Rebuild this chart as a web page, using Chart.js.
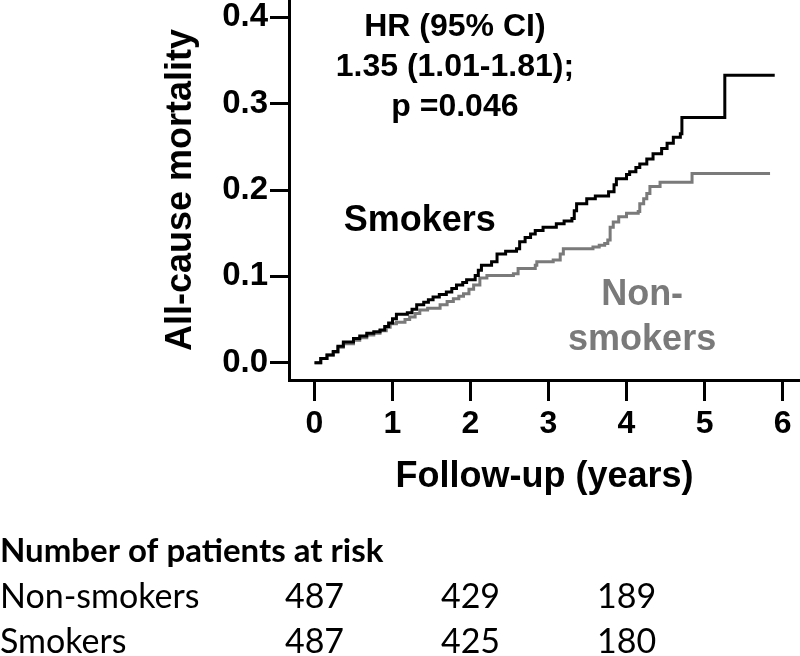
<!DOCTYPE html>
<html>
<head>
<meta charset="utf-8">
<script src="https://cdn.jsdelivr.net/npm/chart.js@4/dist/chart.umd.min.js"></script>
<style>
  body { margin: 0; background: #fff; }
  canvas { display: block; }
</style>
</head>
<body>
<canvas id="myChart" width="800" height="656"></canvas>
<script>
// Kaplan-Meier style cumulative mortality
const smokersT = [0, 0.08, 0.16, 0.24, 0.30, 0.37, 0.50, 0.58, 0.67, 0.76, 0.84, 0.90, 0.95, 1.00, 1.05,
    1.19, 1.25, 1.31, 1.40, 1.46, 1.52, 1.60, 1.69, 1.76, 1.82, 1.90, 1.95, 2.06, 2.10, 2.14, 2.27, 2.34,
    2.45, 2.59, 2.63, 2.70, 2.77, 2.83, 2.93, 3.10, 3.20, 3.30, 3.33, 3.36, 3.49, 3.60, 3.77, 3.84, 3.87,
    4.00, 4.04, 4.12, 4.17, 4.26, 4.34, 4.45, 4.52, 4.60, 4.69, 4.71, 5.26, 5.90];
const smokersY = [0, 0.005, 0.009, 0.013, 0.019, 0.024, 0.028, 0.031, 0.034, 0.036, 0.038, 0.042, 0.046, 0.051, 0.056,
    0.058, 0.062, 0.067, 0.070, 0.073, 0.076, 0.079, 0.082, 0.086, 0.090, 0.093, 0.096, 0.101, 0.107, 0.113, 0.117, 0.126,
    0.129, 0.132, 0.140, 0.145, 0.149, 0.153, 0.157, 0.161, 0.164, 0.167, 0.176, 0.184, 0.190, 0.193, 0.198, 0.206, 0.213,
    0.218, 0.221, 0.226, 0.230, 0.236, 0.242, 0.248, 0.254, 0.261, 0.265, 0.284, 0.333, 0.333];

const nonSmokersT = [0, 0.08, 0.16, 0.24, 0.30, 0.37, 0.50, 0.58, 0.67, 0.76, 0.84, 0.92, 0.97, 1.05, 1.16,
    1.22, 1.29, 1.35, 1.45, 1.61, 1.70, 1.78, 1.85, 1.91, 1.98, 2.04, 2.12, 2.21, 2.55, 2.61, 2.83, 2.85,
    3.06, 3.15, 3.19, 3.57, 3.65, 3.72, 3.76, 3.79, 3.83, 3.90, 4.00, 4.15, 4.17, 4.22, 4.26, 4.30, 4.43,
    4.84, 5.84];
const nonSmokersY = [0, 0.005, 0.009, 0.012, 0.018, 0.022, 0.026, 0.029, 0.032, 0.034, 0.037, 0.041, 0.045, 0.047, 0.050,
    0.053, 0.057, 0.061, 0.063, 0.067, 0.071, 0.074, 0.077, 0.080, 0.085, 0.090, 0.098, 0.101, 0.103, 0.109, 0.113, 0.117,
    0.119, 0.126, 0.132, 0.134, 0.136, 0.138, 0.142, 0.157, 0.163, 0.169, 0.173, 0.175, 0.184, 0.190, 0.196, 0.204, 0.209,
    0.219, 0.219];

const xTicks = [0, 1, 2, 3, 4, 5, 6];
const yTicks = [0, 0.1, 0.2, 0.3, 0.4];

// numbers at risk table
const riskTimes = [0, 2, 4];
const riskGroups = ['Non-smokers', 'Smokers'];
const nonSmokersRisk = [487, 429, 189];
const smokersRisk = [487, 425, 180];

const hrLines = ['HR (95% CI)', '1.35 (1.01-1.81);', 'p =0.046'];

const GREY = '#7a7a7a';
const BOLD = 'bold {s}px "Liberation Sans", Arial, sans-serif';
const boldFont = (s) => BOLD.replace('{s}', s);

function toPoints(xs, ys) {
    return xs.map((x, i) => ({ x: x, y: ys[i] }));
}

const textPlugin = {
    id: 'kmText',
    afterDraw(chart) {
        const ctx = chart.ctx;
        const xs = chart.scales.x;
        const ys = chart.scales.y;
        ctx.save();
        ctx.textAlign = 'center';
        ctx.textBaseline = 'middle';

        // hazard ratio block
        ctx.fillStyle = '#000';
        ctx.font = boldFont(32);
        const hrY = [0.3887, 0.3424, 0.2961];
        hrLines.forEach((t, i) => {
            ctx.fillText(t, xs.getPixelForValue(1.80), ys.getPixelForValue(hrY[i]));
        });

        // curve labels
        ctx.font = boldFont(36);
        ctx.fillText('Smokers', xs.getPixelForValue(1.35), ys.getPixelForValue(0.1640));
        ctx.fillStyle = GREY;
        ctx.fillText('Non-', xs.getPixelForValue(4.20), ys.getPixelForValue(0.0778));
        ctx.fillText('smokers', xs.getPixelForValue(4.20), ys.getPixelForValue(0.0257));

        // at-risk table
        ctx.fillStyle = '#000';
        ctx.textBaseline = 'alphabetic';
        ctx.textAlign = 'left';
        ctx.font = 'bold 33px Lato, "Open Sans", sans-serif';
        ctx.fillText('Number of patients at risk', 0, 562);
        ctx.font = '34px Lato, "Open Sans", sans-serif';
        const rows = [nonSmokersRisk, smokersRisk];
        const rowY = [608, 653];
        rows.forEach((vals, r) => {
            ctx.textAlign = 'left';
            ctx.fillText(riskGroups[r], 0, rowY[r]);
            ctx.textAlign = 'center';
            vals.forEach((v, i) => {
                ctx.fillText(String(v), xs.getPixelForValue(riskTimes[i]), rowY[r]);
            });
        });
        ctx.restore();
    }
};

const data = {
    datasets: [{
            label: 'Smokers',
            data: toPoints(smokersT, smokersY),
            borderColor: '#000',
            borderWidth: 3,
            pointRadius: 0,
            stepped: 'before',
            fill: false
        },
        {
            label: 'Non-smokers',
            data: toPoints(nonSmokersT, nonSmokersY),
            borderColor: GREY,
            borderWidth: 3,
            pointRadius: 0,
            stepped: 'before',
            fill: false
        }
    ]
};

const config = {
    type: 'line',
    data,
    options: {
        responsive: false,
        animation: false,
        layout: { padding: { left: 0, right: 0, top: 0, bottom: 157 } },
        plugins: {
            legend: { display: false },
            tooltip: { enabled: false }
        },
        scales: {
            x: {
                type: 'linear',
                min: -0.327,
                max: 6.224,
                afterBuildTicks: (axis) => { axis.ticks = xTicks.map((v) => ({ value: v })); },
                afterFit: (axis) => {
                    axis.height = 119;
                    axis.paddingLeft = 0;
                    axis.paddingRight = 0;
                },
                border: { display: true, color: '#000', width: 3 },
                grid: { drawOnChartArea: false, drawTicks: true, tickLength: 21, tickWidth: 3, tickColor: '#000' },
                ticks: { color: '#000', padding: 4, maxRotation: 0, font: { family: '"Liberation Sans", Arial, sans-serif', weight: 'bold', size: 32 } },
                title: {
                    display: true,
                    text: 'Follow-up (years)',
                    color: '#000',
                    padding: 0,
                    font: { family: '"Liberation Sans", Arial, sans-serif', weight: 'bold', size: 36 }
                }
            },
            y: {
                min: -0.02,
                max: 0.42,
                afterBuildTicks: (axis) => { axis.ticks = yTicks.map((v) => ({ value: v })); },
                afterFit: (axis) => {
                    axis.width = 289;
                    axis.paddingTop = 0;
                    axis.paddingBottom = 0;
                },
                border: { display: true, color: '#000', width: 3 },
                grid: { drawOnChartArea: false, drawTicks: true, tickLength: 19, tickWidth: 3, tickColor: '#000' },
                ticks: {
                    color: '#000',
                    padding: 2,
                    callback: (v) => v.toFixed(1),
                    font: { family: '"Liberation Sans", Arial, sans-serif', weight: 'bold', size: 33 }
                },
                title: {
                    display: true,
                    text: 'All-cause mortality',
                    color: '#000',
                    padding: { top: 159, bottom: 0 },
                    font: { family: '"Liberation Sans", Arial, sans-serif', weight: 'bold', size: 36 }
                }
            }
        }
    },
    plugins: [textPlugin]
};

let myChart = new Chart(document.getElementById('myChart'), config);
</script>
</body>
</html>
